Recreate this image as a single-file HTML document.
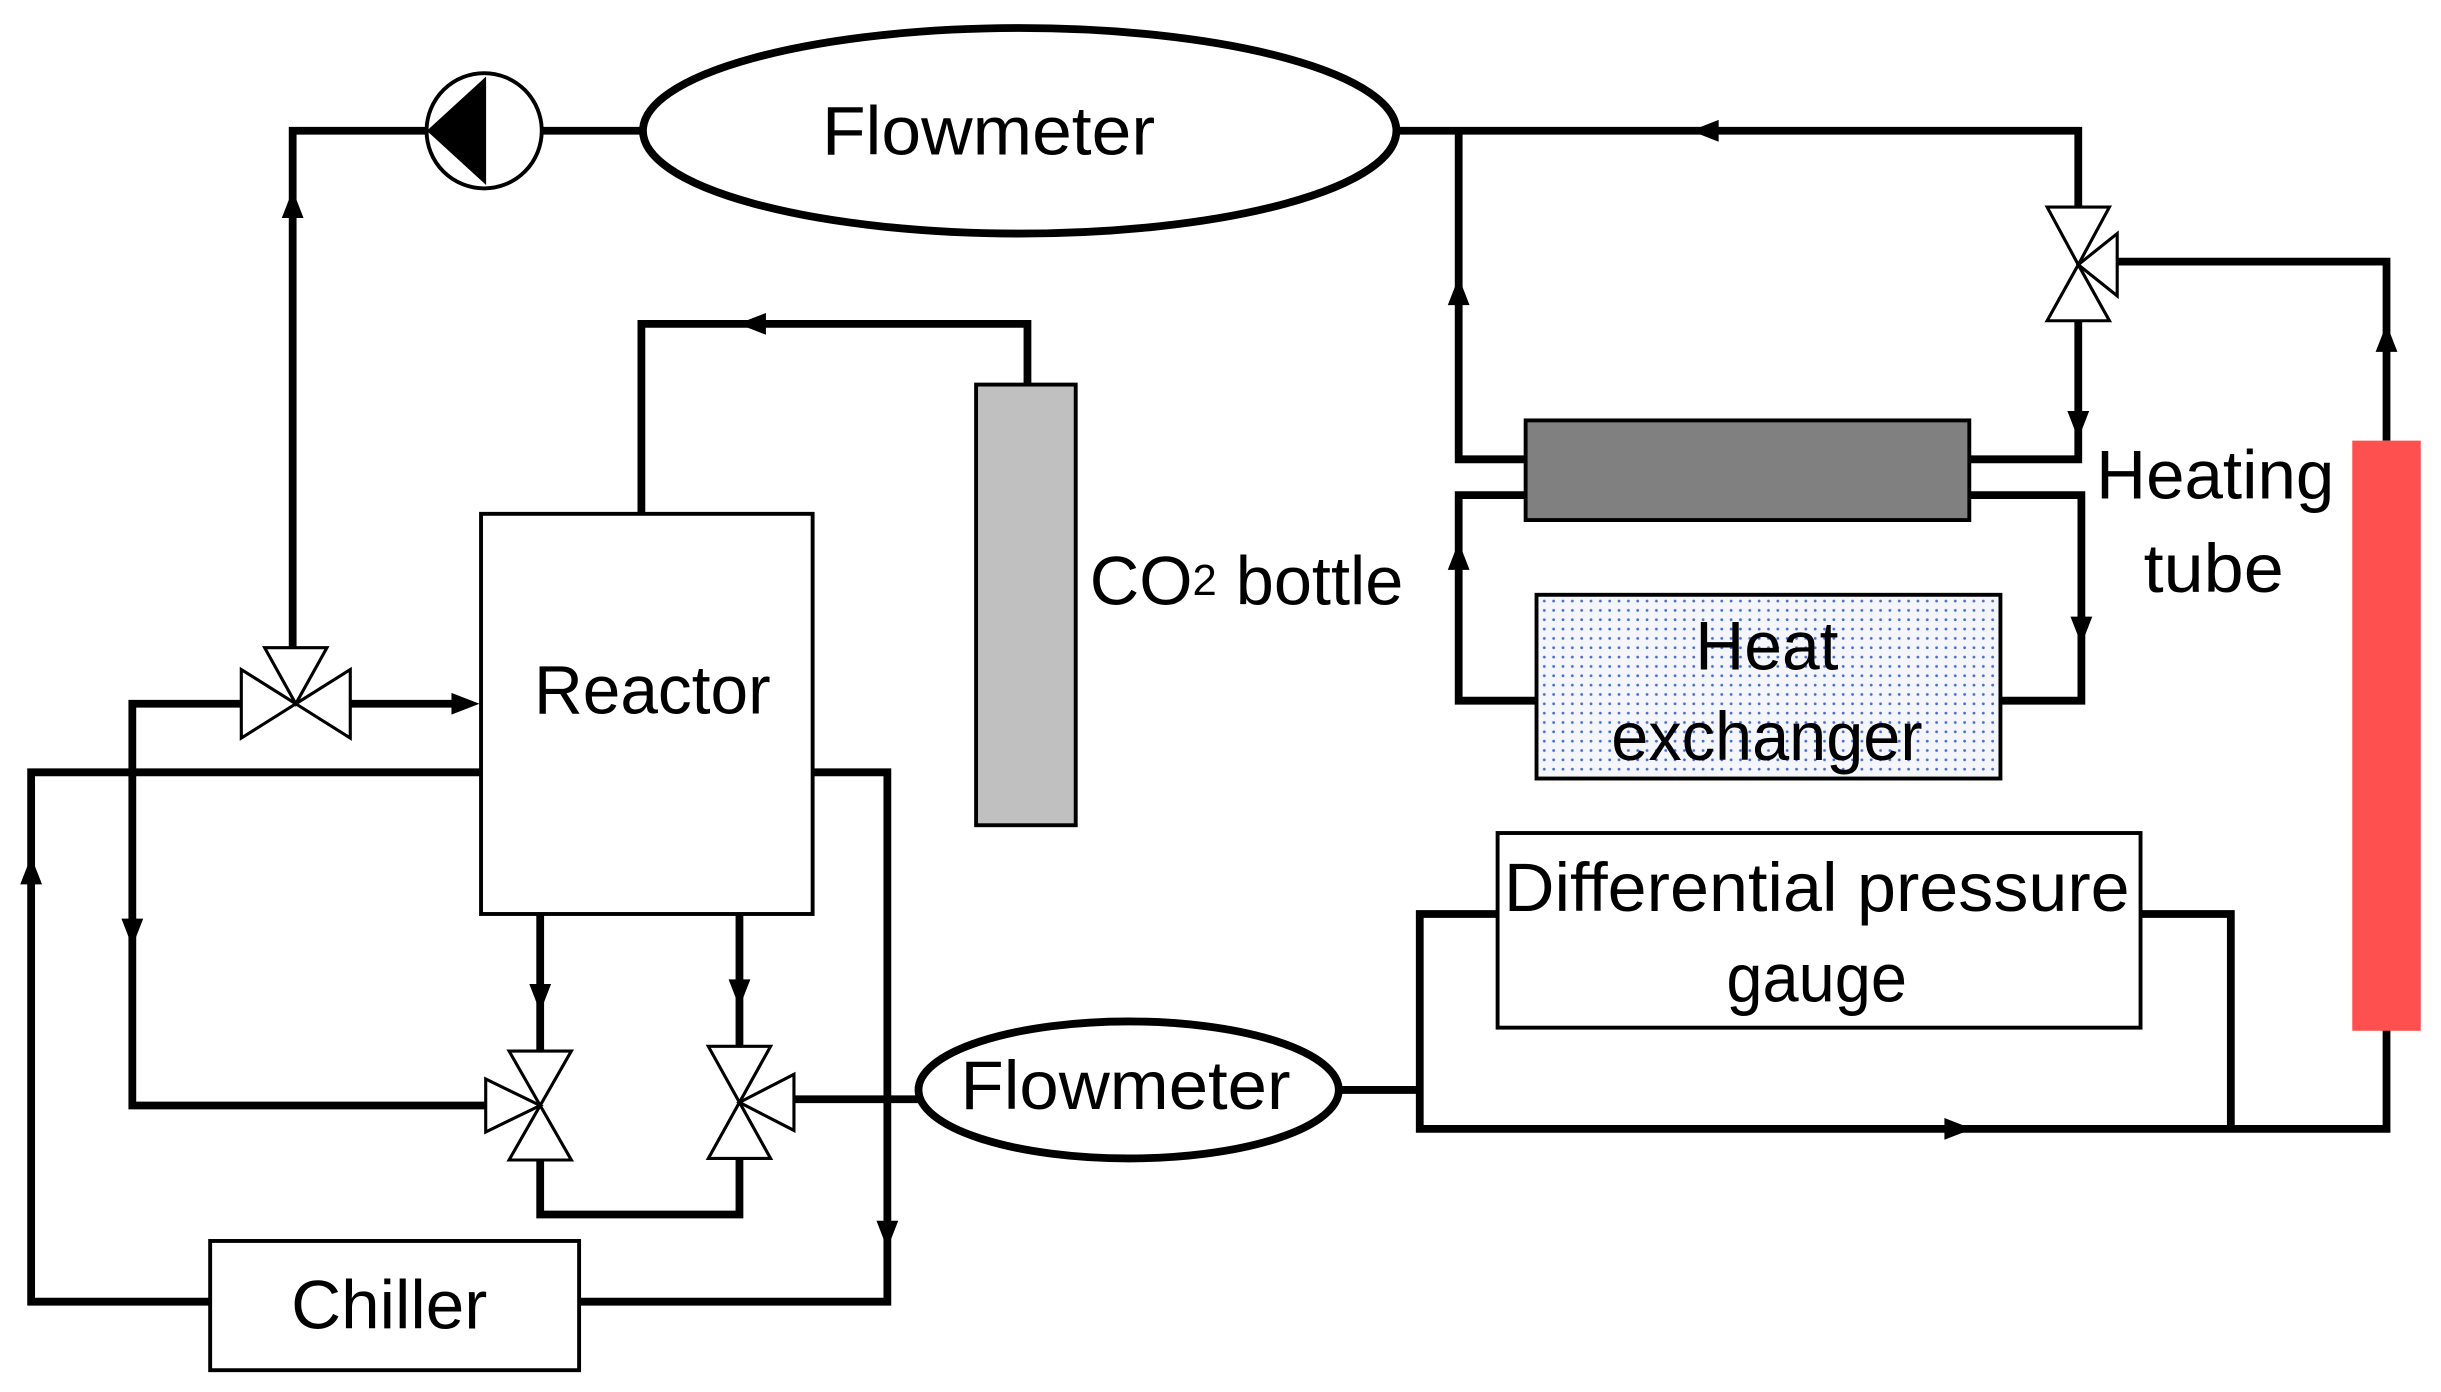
<!DOCTYPE html>
<html><head><meta charset="utf-8"><style>html,body{margin:0;padding:0;background:#fff}svg{display:block}</style></head><body>
<svg width="2441" height="1392" viewBox="0 0 1568 894" preserveAspectRatio="none" xmlns="http://www.w3.org/2000/svg">
<defs>
<pattern id="dots" width="6" height="6" patternUnits="userSpaceOnUse"><rect width="6" height="6" fill="#f4f6fc"/><circle cx="2" cy="2" r="0.9" fill="#4a6fd0"/></pattern>
</defs>
<g fill="none" stroke="#000" stroke-width="5">
<polyline points="275,84 188,84 188,418"/>
<line x1="348" y1="84" x2="413" y2="84"/>
<polyline points="897,84 1335,84 1335,133"/>
<polyline points="1335,206 1335,295 1265,295"/>
<polyline points="937,84 937,295 980,295"/>
<polyline points="980,318 937,318 937,450 987,450"/>
<polyline points="1265,318 1337,318 1337,450 1285,450"/>
<polyline points="1533,283 1533,168 1360,168"/>
<polyline points="412,330 412,208 660,208 660,247"/>
<line x1="225" y1="452" x2="300" y2="452"/>
<polyline points="155,452 85,452 85,710 312,710"/>
<polyline points="309,496 20,496 20,836 135,836"/>
<polyline points="522,496 570,496 570,836 372,836"/>
<line x1="347" y1="587" x2="347" y2="675"/>
<line x1="475" y1="587" x2="475" y2="672"/>
<polyline points="347,745 347,780 475,780 475,744"/>
<line x1="510" y1="706" x2="590" y2="706"/>
<line x1="862" y1="700" x2="912" y2="700"/>
<polyline points="962,587 912,587 912,725 1533,725 1533,660"/>
<polyline points="1375,587 1433,587 1433,725"/>
</g>
<g fill="#000">
<polygon points="188,122 181,140 195,140"/>
<polygon points="308,452 290,445 290,459"/>
<polygon points="85,608 78,590 92,590"/>
<polygon points="20,550 13,568 27,568"/>
<polygon points="570,802 563,784 577,784"/>
<polygon points="347,650 340,632 354,632"/>
<polygon points="475,647 468,629 482,629"/>
<polygon points="474,208 492,201 492,215"/>
<polygon points="1086,84 1104,77 1104,91"/>
<polygon points="937,178 930,196 944,196"/>
<polygon points="937,348 930,366 944,366"/>
<polygon points="1335,282 1328,264 1342,264"/>
<polygon points="1337,414 1330,396 1344,396"/>
<polygon points="1533,208 1526,226 1540,226"/>
<polygon points="1267,725 1249,718 1249,732"/>
</g>
<g stroke="#000" stroke-width="2.5">
<ellipse cx="655" cy="84" rx="242" ry="66" fill="#fff" stroke-width="5"/>
<ellipse cx="725" cy="700" rx="135" ry="44" fill="#fff" stroke-width="5"/>
<circle cx="311" cy="84" r="37" fill="#fff"/>
<polygon points="276,84 311,52 311,116" fill="#000"/>
<rect x="309" y="330" width="213" height="257" fill="#fff"/>
<rect x="627" y="247" width="64" height="283" fill="#c0c0c0"/>
<rect x="135" y="797" width="237" height="83" fill="#fff"/>
<rect x="962" y="535" width="413" height="125" fill="#fff"/>
<rect x="980" y="270" width="285" height="64" fill="#808080"/>
<rect x="987" y="382" width="298" height="118" fill="url(#dots)"/>
<rect x="1511" y="283" width="44" height="379" fill="#ff5050" stroke="none"/>
<g fill="#fff" stroke-width="2">
<polygon points="155,430 155,474 190,452"/>
<polygon points="225,430 225,474 190,452"/>
<polygon points="170,416 210,416 190,452"/>
<polygon points="327,675 367,675 347,710"/>
<polygon points="327,745 367,745 347,710"/>
<polygon points="312,693 312,727 347,710"/>
<polygon points="455,672 495,672 475,708"/>
<polygon points="455,744 495,744 475,708"/>
<polygon points="510,690 510,726 475,708"/>
<polygon points="1315,133 1355,133 1335,170"/>
<polygon points="1315,206 1355,206 1335,170"/>
<polygon points="1360,150 1360,190 1335,170"/>
</g>
</g>
<g font-family="Liberation Sans, sans-serif" font-size="44" fill="#000" text-anchor="middle" dominant-baseline="central" lengthAdjust="spacingAndGlyphs">
<text x="635" y="84" textLength="214" lengthAdjust="spacingAndGlyphs">Flowmeter</text>
<text x="723" y="697" textLength="212" lengthAdjust="spacingAndGlyphs">Flowmeter</text>
<text x="419" y="443" textLength="152" lengthAdjust="spacingAndGlyphs">Reactor</text>
<text x="250" y="838" textLength="126" lengthAdjust="spacingAndGlyphs">Chiller</text>
<text x="700" y="373" text-anchor="start">CO<tspan font-size="28">2</tspan> bottle</text>
<text x="1135" y="415" textLength="92" lengthAdjust="spacingAndGlyphs">Heat</text>
<text x="1135" y="473" textLength="200" lengthAdjust="spacingAndGlyphs">exchanger</text>
<text x="1423" y="305" textLength="153" lengthAdjust="spacingAndGlyphs">Heating</text>
<text x="1422" y="365" textLength="90" lengthAdjust="spacingAndGlyphs">tube</text>
<text x="1167" y="570" textLength="402" lengthAdjust="spacingAndGlyphs">Differential pressure</text>
<text x="1167" y="628" textLength="116" lengthAdjust="spacingAndGlyphs">gauge</text>
</g>
</svg>
</body></html>
